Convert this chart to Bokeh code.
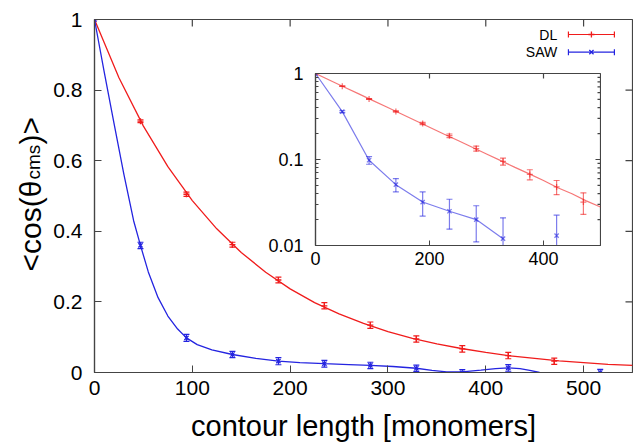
import numpy as np
from bokeh.plotting import figure
from bokeh.models import Range1d, FixedTicker, PrintfTickFormatter
from bokeh.layouts import column
from bokeh.embed import file_html
from bokeh.resources import INLINE
from bokeh.core.properties import value

# ---------------- data ----------------
dl_x = [0, 47, 94, 141, 188, 235, 282, 329, 376, 423, 470]
dl_y = [1.0, 0.712, 0.505, 0.362, 0.262, 0.189, 0.134, 0.095, 0.067, 0.048, 0.032]
dl_err = [0.0, 0.004, 0.006, 0.007, 0.008, 0.009, 0.009, 0.009, 0.009, 0.009, 0.009]

saw_x = [0, 47, 94, 141, 188, 235, 282, 329, 376, 423, 517]
saw_y = [1.0, 0.36, 0.098, 0.051, 0.032, 0.025, 0.020, 0.012, -0.001, 0.013, 0.0]
saw_err = [0.0, 0.009, 0.010, 0.009, 0.010, 0.0095, 0.009, 0.009, 0.009, 0.0095, 0.009]

# fitted curves
dl_fit_x = [0, 25, 50, 75, 100, 125, 150, 175, 200, 225, 250, 275, 300, 325,
            350, 375, 400, 425, 450, 475, 500, 525, 550]
dl_fit_y = [1.0, 0.835, 0.698, 0.583, 0.487, 0.407, 0.340, 0.284, 0.237, 0.198,
            0.166, 0.139, 0.116, 0.097, 0.081, 0.068, 0.057, 0.047, 0.040, 0.033,
            0.028, 0.023, 0.020]
saw_fit_x = [0, 10, 20, 30, 40, 47, 55, 65, 75, 85, 94, 105, 120, 141, 165, 188,
             210, 235, 260, 282, 305, 329, 345, 360, 376, 395, 410, 423, 435, 445,
             455, 470, 490, 517]
saw_fit_y = [1.0, 0.85, 0.705, 0.562, 0.43, 0.36, 0.285, 0.212, 0.160, 0.123, 0.098,
             0.079, 0.064, 0.051, 0.040, 0.032, 0.028, 0.025, 0.0225, 0.020, 0.017,
             0.012, 0.006, 0.002, 0.002, 0.007, 0.011, 0.013, 0.011, 0.006, 0.0,
             -0.006, -0.009, 0.0]

main_x_ticks = [0, 100, 200, 300, 400, 500]
main_y_ticks = [0, 0.2, 0.4, 0.6, 0.8, 1]
main_x_range = (0, 550)
main_y_range = (0, 1)

inset_x_ticks = [0, 200, 400]
inset_y_ticks = [0.01, 0.1, 1]
inset_y_minor = [0.02, 0.03, 0.04, 0.05, 0.06, 0.07, 0.08, 0.09,
                 0.2, 0.3, 0.4, 0.5, 0.6, 0.7, 0.8, 0.9]
inset_x_range = (0, 500)
inset_y_range = (0.01, 1)

series_labels = ["DL", "SAW"]
x_title = "contour length [monomers]"
y_title_parts = ["<cos(θ", "cms", ")>"]   # main text, subscript, main text

# ---------------- styles ----------------
RED = "#f01c1c"
BLUE = "#2424e0"
FRAME = "#444444"
FONT = "Liberation Sans"

# ---------------- main plot ----------------
p = figure(width=633, height=445, x_range=Range1d(*main_x_range), y_range=Range1d(*main_y_range),
           output_backend="svg", toolbar_location=None,
           min_border_left=94, min_border_right=1, min_border_top=19, min_border_bottom=73)
p.grid.visible = False
p.outline_line_color = FRAME
p.outline_line_width = 1.2

for ax in (p.xaxis[0], p.yaxis[0]):
    ax.major_tick_in = 7
    ax.major_tick_out = 0
    ax.minor_tick_in = 0
    ax.minor_tick_out = 0
    ax.axis_line_color = FRAME
    ax.axis_line_width = 1.2
    ax.major_tick_line_color = FRAME
    ax.major_label_text_font = FONT
    ax.major_label_text_font_size = "21px"
    ax.major_label_text_color = "black"
p.xaxis.ticker = FixedTicker(ticks=main_x_ticks)
p.yaxis.ticker = FixedTicker(ticks=main_y_ticks)
p.xaxis.formatter = PrintfTickFormatter(format="%g")
p.yaxis.formatter = PrintfTickFormatter(format="%g")
p.yaxis.major_label_standoff = 12
p.xaxis.major_label_standoff = 8
p.xaxis.axis_label = x_title
p.xaxis.axis_label_text_font = FONT
p.xaxis.axis_label_text_font_size = "29px"
p.xaxis.axis_label_text_font_style = "normal"
p.xaxis.axis_label_standoff = 12
p.xaxis.axis_label_text_color = "black"

# mirrored ticks on top and right
top_ticks = [t for t in main_x_ticks if main_x_range[0] < t < main_x_range[1]]
right_ticks = [t for t in main_y_ticks if main_y_range[0] < t < main_y_range[1]]
p.ray(x=top_ticks, y=[main_y_range[1]] * len(top_ticks), length=7, length_units="screen",
      angle=-np.pi / 2, line_color=FRAME, line_width=1.2)
p.ray(x=[main_x_range[1]] * len(right_ticks), y=right_ticks, length=7, length_units="screen",
      angle=np.pi, line_color=FRAME, line_width=1.2)

p.line(dl_fit_x, dl_fit_y, line_color=RED, line_width=1.3)
p.line(saw_fit_x, saw_fit_y, line_color=BLUE, line_width=1.3)

def errorbars(fig, xs, ys, es, color, marker, alpha=1.0):
    lo = [y - e for y, e in zip(ys, es)]
    hi = [y + e for y, e in zip(ys, es)]
    fig.segment(x0=xs, y0=lo, x1=xs, y1=hi, line_color=color, line_width=1.2, line_alpha=alpha)
    fig.scatter(xs, lo, marker="dash", size=6, line_color=color, line_width=1.2, line_alpha=alpha)
    fig.scatter(xs, hi, marker="dash", size=6, line_color=color, line_width=1.2, line_alpha=alpha)
    fig.scatter(xs, ys, marker=marker, size=6, line_color=color, line_width=1.3, line_alpha=alpha)

errorbars(p, dl_x, dl_y, dl_err, RED, "cross")
errorbars(p, saw_x, saw_y, saw_err, BLUE, "x")

# legend: label to the left of the sample, as in the original
leg_text_x = 473
leg_x0, leg_x1 = 484.5, 531.5
leg_y = [0.9575, 0.9075]
p.text(x=[leg_text_x, leg_text_x], y=leg_y, text=series_labels, text_font=value(FONT),
       text_font_size="14px", text_align="right", text_baseline="middle", text_color="black")
for yy, col, mk in zip(leg_y, [RED, BLUE], ["cross", "x"]):
    p.segment(x0=[leg_x0], y0=[yy], x1=[leg_x1], y1=[yy], line_color=col, line_width=1.2)
    p.scatter([leg_x0, leg_x1], [yy, yy], marker="dash", angle=np.pi / 2, size=6,
              line_color=col, line_width=1.2)
    p.scatter([(leg_x0 + leg_x1) / 2], [yy], marker=mk, size=6, line_color=col, line_width=1.3)

# ---------------- y-axis title (with subscript) ----------------
# small transparent figure laid over the left margin; coordinates = pixels from window left / bottom
yl = figure(width=155, height=200, x_range=Range1d(5, 65), y_range=Range1d(145, 345),
            output_backend="svg", toolbar_location=None,
            min_border_left=94, min_border_right=1, min_border_top=0, min_border_bottom=0)
yl.styles = {"position": "absolute", "left": "-89px", "top": "100px"}
yl.axis.visible = False
yl.grid.visible = False
yl.outline_line_color = None
yl.background_fill_alpha = 0
yl.border_fill_alpha = 0
for txt, tx, ty, fs in zip(y_title_parts, [30, 33, 30], [174, 266, 301], ["30px", "19px", "30px"]):
    yl.text(x=[tx], y=[ty], text=[txt], angle=np.pi / 2, text_font=value(FONT),
            text_font_size=fs, text_align="left", text_baseline="alphabetic", text_color="black")

# ---------------- inset ----------------
ins = figure(width=380, height=210, x_range=Range1d(*inset_x_range), y_range=Range1d(*inset_y_range),
             y_axis_type="log", output_backend="svg", toolbar_location=None,
             min_border_left=94, min_border_right=1, min_border_top=8, min_border_bottom=30)
ins.styles = {"position": "absolute", "left": "221px", "top": "65px"}
ins.grid.visible = False
ins.background_fill_color = "white"
ins.border_fill_alpha = 0
ins.outline_line_color = FRAME
ins.outline_line_width = 1.2
for ax in (ins.xaxis[0], ins.yaxis[0]):
    ax.major_tick_in = 5
    ax.major_tick_out = 0
    ax.minor_tick_in = 3
    ax.minor_tick_out = 0
    ax.axis_line_color = FRAME
    ax.axis_line_width = 1.2
    ax.major_tick_line_color = FRAME
    ax.minor_tick_line_color = FRAME
    ax.major_label_text_font = FONT
    ax.major_label_text_font_size = "18px"
    ax.major_label_text_color = "black"
ins.xaxis.ticker = FixedTicker(ticks=inset_x_ticks, minor_ticks=[])
ins.yaxis.ticker = FixedTicker(ticks=inset_y_ticks, minor_ticks=inset_y_minor)
ins.xaxis.formatter = PrintfTickFormatter(format="%g")
ins.yaxis.formatter = PrintfTickFormatter(format="%g")
ins.yaxis.major_label_standoff = 12
ins.xaxis.major_label_standoff = 6

itop = [t for t in inset_x_ticks if inset_x_range[0] < t < inset_x_range[1]]
iright = [t for t in inset_y_ticks if inset_y_range[0] < t < inset_y_range[1]]
ins.ray(x=itop, y=[inset_y_range[1]] * len(itop), length=5, length_units="screen",
        angle=-np.pi / 2, line_color=FRAME, line_width=1.2)
ins.ray(x=[inset_x_range[1]] * len(iright), y=iright, length=5, length_units="screen",
        angle=np.pi, line_color=FRAME, line_width=1.2)
ins.ray(x=[inset_x_range[1]] * len(inset_y_minor), y=inset_y_minor, length=3, length_units="screen",
        angle=np.pi, line_color=FRAME, line_width=1.2)

IA = 0.6
fx = [x for x in dl_fit_x if x <= inset_x_range[1]]
fy = dl_fit_y[:len(fx)]
ins.line(fx, fy, line_color=RED, line_width=1.2, line_alpha=IA)
saw_pos = [y if y > 0 else np.nan for y in saw_y]
ins.line(saw_x, saw_pos, line_color=BLUE, line_width=1.2, line_alpha=IA)
sel = [i for i, y in enumerate(saw_y) if y > 0 and saw_x[i] <= inset_x_range[1]]
errorbars(ins, [saw_x[i] for i in sel], [saw_y[i] for i in sel], [saw_err[i] for i in sel], BLUE, "x", IA)
errorbars(ins, dl_x, dl_y, dl_err, RED, "cross", IA)

layout = column(p, ins, yl)
open("out.html", "w").write(file_html(layout, INLINE))
